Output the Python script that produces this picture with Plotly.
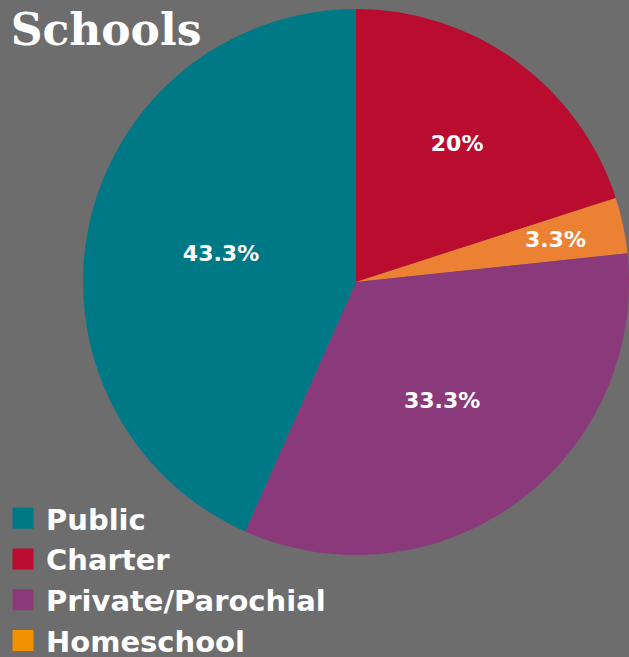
import plotly.graph_objects as go

# slice order as drawn clockwise from 12 o'clock
slice_labels = ["Charter", "Homeschool", "Private/Parochial", "Public"]
slice_values = [20.0, 3.3, 33.3, 43.3]
slice_text = ["20%", "3.3%", "33.3%", "43.3%"]
slice_colors = ["#ba0c2f", "#ec8133", "#8a3a7a", "#007987"]
small_slices = ["Homeschool"]  # labels placed nearer the centre

# legend order
legend_labels = ["Public", "Charter", "Private/Parochial", "Homeschool"]
legend_colors = ["#007987", "#ba0c2f", "#8a3a7a", "#f39200"]

BG = "#6d6d6d"
LBL_FONT = "DejaVu Sans"

W, VIEW_H = 629, 657
H = VIEW_H + 9                  # figure slightly taller; bottom strip clipped by the page
CX, CY, R = 356, 282, 273       # pie centre/radius in pixels from top-left
R_SMALL = 225                   # radius of the label-only helper pie


def dom(r):
    return dict(x=[(CX - r) / W, min(1.0, (CX + r) / W)],
                y=[(H - CY - r) / H, (H - CY + r) / H])


main_text = [("" if l in small_slices else t) for l, t in zip(slice_labels, slice_text)]
small_text = [(t if l in small_slices else "") for l, t in zip(slice_labels, slice_text)]

fig = go.Figure()
fig.add_trace(go.Pie(
    labels=slice_labels, values=slice_values, text=main_text,
    textinfo="text", textposition="inside", insidetextorientation="horizontal",
    sort=False, direction="clockwise", rotation=0,
    marker=dict(colors=slice_colors, line=dict(width=0)),
    textfont=dict(family=LBL_FONT, size=22, color="white", weight="bold"),
    showlegend=False, hoverinfo="label+percent",
    domain=dom(R),
))
fig.add_trace(go.Pie(
    labels=slice_labels, values=slice_values, text=small_text,
    textinfo="text", textposition="inside", insidetextorientation="horizontal",
    sort=False, direction="clockwise", rotation=0,
    marker=dict(colors=["rgba(0,0,0,0)"] * len(slice_labels), line=dict(width=0)),
    textfont=dict(family=LBL_FONT, size=22, color="white", weight="bold"),
    showlegend=False, hoverinfo="skip",
    domain=dom(R_SMALL),
))

for name, col in zip(legend_labels, legend_colors):
    fig.add_trace(go.Scatter(
        x=[None], y=[None], mode="markers", name=name,
        marker=dict(symbol="square", size=16, color=col, line=dict(width=5, color=col)),
    ))

fig.update_layout(
    width=W, height=H,
    margin=dict(l=0, r=0, t=0, b=0),
    paper_bgcolor=BG, plot_bgcolor=BG,
    xaxis=dict(visible=False), yaxis=dict(visible=False),
    uniformtext=dict(minsize=22, mode="show"),
    title=dict(text="Schools", x=0.017, xanchor="left", y=1 - 14.0 / H, yanchor="top",
               font=dict(family="DejaVu Serif", size=44, color="white", weight="bold")),
    legend=dict(x=0.0, y=0.0, xanchor="left", yanchor="bottom", bgcolor="rgba(0,0,0,0)",
                font=dict(family=LBL_FONT, size=29, color="white", weight="bold"),
                itemwidth=36, tracegroupgap=0, itemclick=False),
)

post = ("document.body.style.margin='0';"
        "var d=document.getElementById('{plot_id}');"
        "d.style.height='%dpx';d.style.overflow='hidden';" % VIEW_H)

fig.write_html("out.html", config={"displayModeBar": False}, post_script=post)
